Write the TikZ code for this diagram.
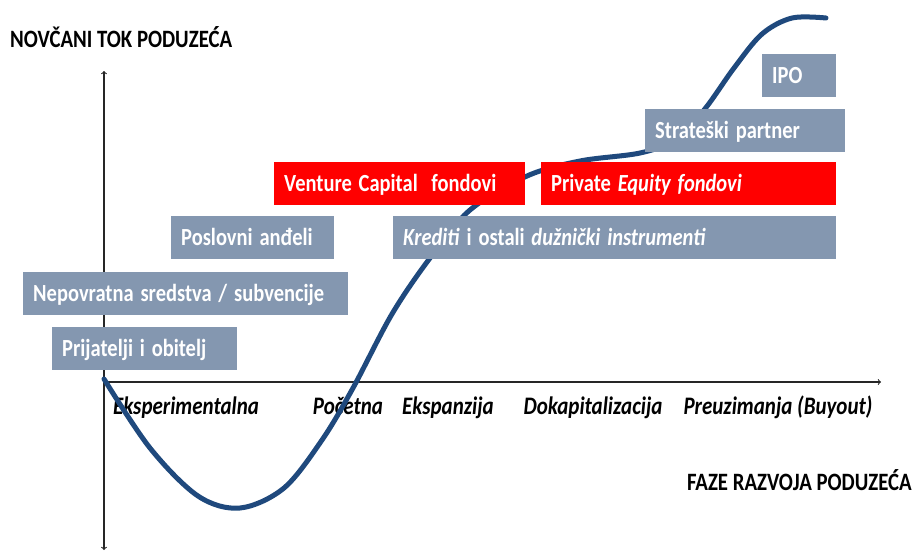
\documentclass[tikz,border=0pt]{standalone}
\usepackage{fontspec}
\setmainfont{Carlito}
\definecolor{boxgray}{RGB}{132,151,176}
\definecolor{boxred}{RGB}{255,0,0}
\definecolor{curveblue}{RGB}{31,73,125}
\begin{document}
\begin{tikzpicture}[x=1pt, y=-1pt,
    tall/.style={yscale=1.2, transform shape},
    g/.style={tall, fill=boxgray, text=white, font=\fontsize{20.5}{24}\selectfont\bfseries, inner xsep=10pt, inner ysep=0pt, minimum height=36pt, text height=13.2pt, text depth=0pt, align=left, anchor=north west},
    r/.style={g, fill=boxred},
    phase/.style={tall, font=\fontsize{21}{24}\selectfont\bfseries\itshape, anchor=base, inner sep=0pt},
    caption/.style={tall, font=\fontsize{20.8}{24}\selectfont\bfseries, inner sep=0pt},
    ax/.style={line width=1.1pt, draw=black!85},
    s/.style={line width=5pt, draw=curveblue, line cap=round}]
    \useasboundingbox (0,0) rectangle (916,552);
		\node[caption, anchor=base west] (title) at (10,47) {NOVČANI TOK PODUZEĆA};
		\node[caption, anchor=base east] (faze) at (912,490) {FAZE RAZVOJA PODUZEĆA};
		\coordinate (O) at (104,382);
		\coordinate (X) at (881,382);
		\coordinate (Ytop) at (104,71);
		\coordinate (Ybot) at (104,550);
		\draw[ax, ->] (O) -- (X);
		\draw[ax, <->] (Ybot) -- (Ytop);

		\node[phase] (exp) at (186,414) {Eksperimentalna};
		\node[phase] (poc) at (348,414) {Početna};
		\node[phase] (eks) at (448,414) {Ekspanzija};
		\node[phase] (dok) at (593,414) {Dokapitalizacija};
		\node[phase] (buy) at (778,414) {Preuzimanja (Buyout)};

		\draw[s] plot[smooth, tension=0.55] coordinates {(104,379) (150,448) (198,496) (240,508) (284,488) (322,440) (353,388) (392,314) (430,258) (470,210) (527,176) (580,161) (640,153) (674,140) (704,110) (734,68) (762,34) (792,18) (826,18)};

		\node[g, text width=165pt] (prij) at (52,327) {Prijatelji i obitelj};
		\node[g, text width=305pt] (nep) at (23,272) {Nepovratna sredstva / subvencije};
		\node[g, text width=143pt] (pos) at (171,216) {Poslovni anđeli};
		\node[r, text width=231pt] (vc) at (274,162) {Venture Capital\ \ fondovi};
		\node[g, text width=423pt] (kred) at (393,216) {\textit{Krediti} i ostali \textit{dužnički instrumenti}};
		\node[r, text width=275pt] (pe) at (541,162) {Private \textit{Equity fondovi}};
		\node[g, text width=180pt] (strat) at (645,109) {Strateški partner};
		\node[g, text width=54pt] (ipo) at (762,54) {IPO};
	\end{tikzpicture}
\end{document}
